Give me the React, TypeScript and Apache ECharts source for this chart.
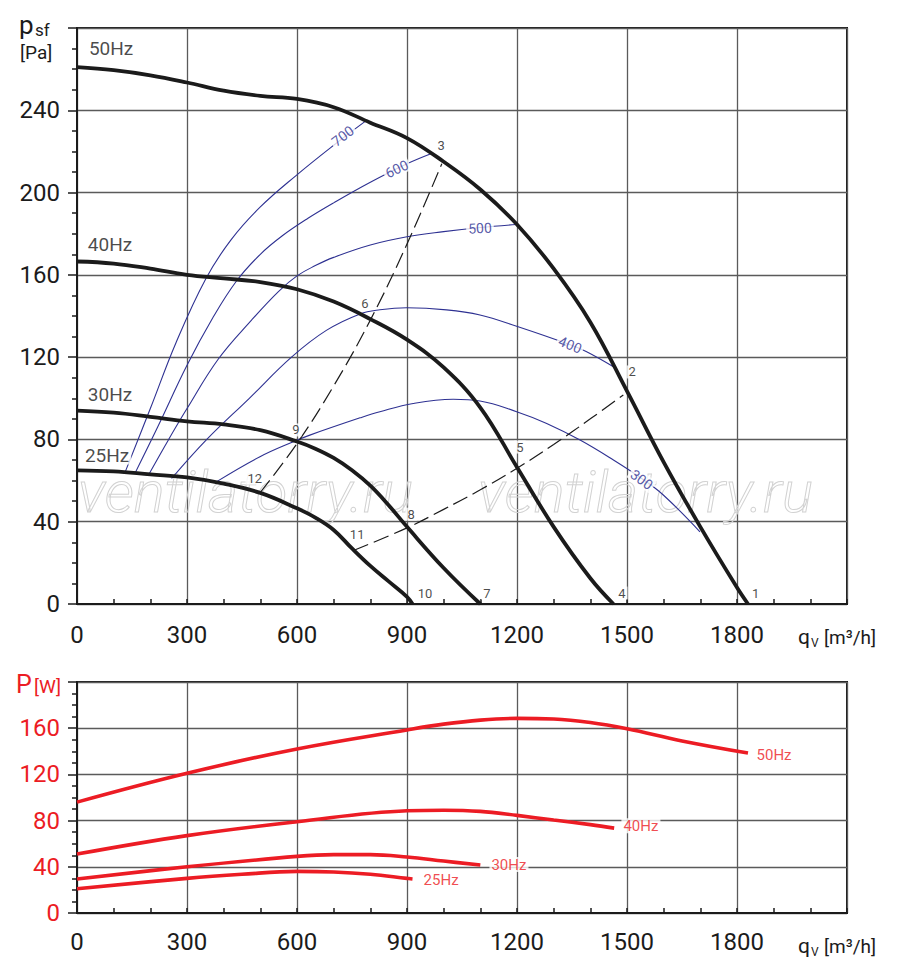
import React, { useEffect, useRef } from "react";
import * as echarts from "echarts";

// ---------- axis ticks ----------
const qMax = 2100;
const qStep = 300;
const pMax = 280;
const pStep = 40;
const wMax = 200;
const wStep = 40;

// ---------- fan curves (q m3/h, p Pa) ----------
const curve50Hz = [[0,261],[100,259.5],[200,257],[300,253.5],[400,249.5],[500,247],[600,245.5],[700,241.5],[800,234],[900,226.5],[1000,215],[1100,201.5],[1200,184.5],[1300,163],[1400,137],[1500,103.5],[1600,69],[1700,37.5],[1800,8],[1830,0]];
const curve40Hz = [[0,166.5],[100,165.5],[200,163],[300,160],[400,158.3],[500,156.5],[600,153],[700,147],[800,138.5],[900,128.5],[1000,115],[1100,95.5],[1200,66.5],[1300,37.5],[1400,12.5],[1463,0]];
const curve30Hz = [[0,94],[100,93],[200,91],[300,88.8],[400,87.3],[500,84.5],[600,79],[650,75.5],[700,71],[750,65],[800,57.5],[850,48],[900,37.5],[1000,17.5],[1100,0]];
const curve25Hz = [[0,65],[100,64.5],[200,63],[300,61.5],[400,58.5],[500,54],[600,46.5],[650,42],[700,36],[750,27],[800,18.5],[850,11],[900,3.5],[915,0]];

// ---------- iso lines (blue) ----------
const iso700 = [[131,64],[200,95],[270,127],[351,158],[420,177],[500,193],[599,208.5],[700,223],[785,234.5]];
const iso600 = [[158,63.5],[220,86],[300,116],[370,139],[435,157],[500,170],[560,179],[630,187.5],[700,195],[800,205],[900,214],[967,219]];
const iso500 = [[195,62.7],[250,80],[300,95],[385,119],[476,138],[550,152],[600,159.5],[650,164.5],[700,168.5],[800,174.5],[900,178.5],[1000,181],[1100,183],[1199,184.5]];
const iso400 = [[258,61],[354,80],[470,100],[585,120],[680,133],[772,141],[826,143],[899,144],[1008,143],[1099,140.5],[1199,135],[1345,126],[1390,122.6],[1463,115.3]];
const iso300 = [[381,59.5],[499,71.6],[590,78.9],[635,82.1],[772,90.5],[826,93.5],[917,97.5],[1026,99.5],[1099,98.7],[1199,93.5],[1281,87.8],[1372,79.7],[1463,70],[1540,61],[1599,53],[1699,35.1]];
const isoNames = ["700", "600", "500", "400", "300"];
const isoLabelPos = [[725,227.5,38],[872,211.5,25],[1099,182.7,3],[1345,126,-22],[1540,60.5,-36]];

// ---------- system (dashed) curves ----------
const systemA = [[499,54],[600,78],[700,106],[800,138],[900,175],[995,214]];
const systemB = [[754,26],[900,37],[1000,46],[1100,55.5],[1200,66],[1300,77.5],[1400,90],[1490,101.6]];

// ---------- operating point numbers ----------
const pointNames = ["1","2","3","4","5","6","7","8","9","10","11","12"];
const pointPos = [[1851,5.3],[1514,112.8],[993,223],[1486,5.3],[1208,76.3],[785,146],[1118,5.3],[911,43.7],[597,84.6],[949,5.3],[764,34],[485,61.2]];

// ---------- frequency labels ----------
const hzNames = ["50Hz", "40Hz", "30Hz", "25Hz"];
const hzPressurePos = [[93,270.2],[90,175],[90,101.6],[82,72.4]];
const hzPowerPos = [[1901,136.9],[1538,75.5],[1178,41.9],[993,28.8]];

// ---------- power curves (q m3/h, P W) ----------
const power50Hz = [[0,96],[300,121],[600,142],[900,158.5],[1000,163.5],[1100,167],[1200,168.5],[1300,168],[1400,165],[1500,159.5],[1650,149],[1830,138.5]];
const power40Hz = [[0,51],[300,67],[600,79],[900,88.5],[1000,89],[1100,88],[1200,84.5],[1300,80.5],[1400,76.5],[1465,73.5]];
const power30Hz = [[0,29.5],[300,40],[600,49],[700,50.5],[800,50.5],[900,48.5],[1000,45],[1100,41.5]];
const power25Hz = [[0,21],[300,30],[450,33.5],[600,36],[700,35.5],[800,33.5],[900,30],[915,29.5]];

const INK = "#1b1b1b";
const BLUE = "#2e3192";
const RED = "#ec1c24";
const GRIDC = "#5a5a5a";
const FONT = "Roboto";

function xAxisCfg(gridIndex: number, margin: number) {
  return {
    type: "value", gridIndex, min: 0, max: qMax, interval: qStep,
    axisLine: { show: true, onZero: false, lineStyle: { color: INK, width: 2 } },
    axisTick: { show: true, inside: true, length: 5, lineStyle: { color: INK, width: 1.5 } },
    minorTick: { show: true, splitNumber: 3, length: 5, lineStyle: { color: INK, width: 1.5 } },
    splitLine: { show: true, lineStyle: { color: GRIDC, width: 1.3 } },
    axisLabel: {
      fontSize: 24, fontFamily: FONT, color: INK, margin,
      formatter: (v: number) => (v >= qMax ? "" : String(v)),
    },
  };
}

function yAxisCfg(gridIndex: number, max: number, step: number, color: string) {
  return {
    type: "value", gridIndex, min: 0, max, interval: step,
    axisLine: { show: true, onZero: false, lineStyle: { color: INK, width: 2 } },
    axisTick: { show: true, inside: false, length: 9, lineStyle: { color: INK, width: 1.5 } },
    minorTick: { show: true, splitNumber: 4, length: 5, lineStyle: { color: INK, width: 1.5 } },
    splitLine: { show: true, lineStyle: { color: GRIDC, width: 1.3 } },
    axisLabel: {
      fontSize: 24, fontFamily: FONT, color, margin: 17,
      formatter: (v: number) => (v >= max ? "" : String(v)),
    },
  };
}

function lineSeries(data: number[][], grid: number, color: string, width: number, dashed = false) {
  return {
    type: "line", xAxisIndex: grid, yAxisIndex: grid, data,
    smooth: 0.4, showSymbol: false, symbol: "none", silent: true,
    lineStyle: { color, width, type: dashed ? [16, 6] : "solid" },
    z: dashed ? 3 : width > 2 ? 4 : 3,
  };
}

function textSeries(grid: number, names: string[], pos: number[][], fontSize: number, color: string, z = 6) {
  return {
    type: "scatter", xAxisIndex: grid, yAxisIndex: grid, symbolSize: 1, silent: true,
    itemStyle: { color: "rgba(0,0,0,0)" },
    data: names.map((n, i) => ({
      name: n, value: [pos[i][0], pos[i][1]],
      label: { rotate: pos[i][2] || 0 },
    })),
    label: {
      show: true, position: "inside", formatter: "{b}", fontSize, fontFamily: FONT, color,
      backgroundColor: "#ffffff", padding: [0, 2],
    },
    z,
  };
}

export default function App() {
  const ref = useRef<HTMLDivElement>(null);
  useEffect(() => {
    if (!ref.current) return;
    const chart = echarts.init(ref.current, undefined, { renderer: "svg" });
    const wm = (x: number) => ({
      type: "text", x, y: 492, z: 1, silent: true,
      style: {
        text: "ventilatorry.ru", fontSize: 58, fontFamily: FONT, fontStyle: "italic", fontWeight: 300,
        fill: "rgba(255,255,255,0)", stroke: "#d2d2d2", lineWidth: 1, verticalAlign: "middle",
      },
    });
    const txt = (text: string, x: number, y: number, fontSize: number, color: string) => ({
      type: "text", x, y, z: 10, silent: true,
      style: { text, fontSize, fontFamily: FONT, fill: color, verticalAlign: "middle" },
    });
    chart.setOption({
      animation: false,
      backgroundColor: "#ffffff",
      grid: [
        { left: 77, right: 53, top: 28, bottom: 370, show: true, borderColor: INK, borderWidth: 2 },
        { left: 77, right: 53, top: 682, bottom: 61, show: true, borderColor: INK, borderWidth: 2 },
      ],
      xAxis: [xAxisCfg(0, 19), xAxisCfg(1, 17)],
      yAxis: [yAxisCfg(0, pMax, pStep, INK), yAxisCfg(1, wMax, wStep, RED)],
      graphic: [
        wm(78), wm(478),
        txt("p", 19, 25, 26, INK),
        txt("sf", 35, 30, 17, INK),
        txt("[Pa]", 20, 52, 19, INK),
        txt("q", 798, 637, 21, INK),
        txt("V", 811, 643, 12, INK),
        txt("[m³/h]", 824, 637, 19, INK),
        txt("q", 798, 946, 21, INK),
        txt("V", 811, 952, 12, INK),
        txt("[m³/h]", 824, 946, 19, INK),
        txt("P", 16, 684, 25, RED),
        txt("[W]", 34, 686, 19, RED),
      ],
      series: [
        lineSeries(iso700, 0, BLUE, 1.1),
        lineSeries(iso600, 0, BLUE, 1.1),
        lineSeries(iso500, 0, BLUE, 1.1),
        lineSeries(iso400, 0, BLUE, 1.1),
        lineSeries(iso300, 0, BLUE, 1.1),
        lineSeries(systemA, 0, INK, 1.2, true),
        lineSeries(systemB, 0, INK, 1.2, true),
        lineSeries(curve50Hz, 0, INK, 3.8),
        lineSeries(curve40Hz, 0, INK, 3.8),
        lineSeries(curve30Hz, 0, INK, 3.8),
        lineSeries(curve25Hz, 0, INK, 3.8),
        textSeries(0, isoNames, isoLabelPos, 14, BLUE),
        textSeries(0, pointNames, pointPos, 13, INK),
        textSeries(0, hzNames, hzPressurePos, 19, INK),
        lineSeries(power50Hz, 1, RED, 3.6),
        lineSeries(power40Hz, 1, RED, 3.6),
        lineSeries(power30Hz, 1, RED, 3.6),
        lineSeries(power25Hz, 1, RED, 3.6),
        textSeries(1, hzNames, hzPowerPos, 15, RED),
      ],
    });
    return () => chart.dispose();
  }, []);
  return (
    <div
      ref={ref}
      style={{ position: "absolute", left: 0, top: 0, width: 900, height: 974, background: "#fff" }}
    />
  );
}
